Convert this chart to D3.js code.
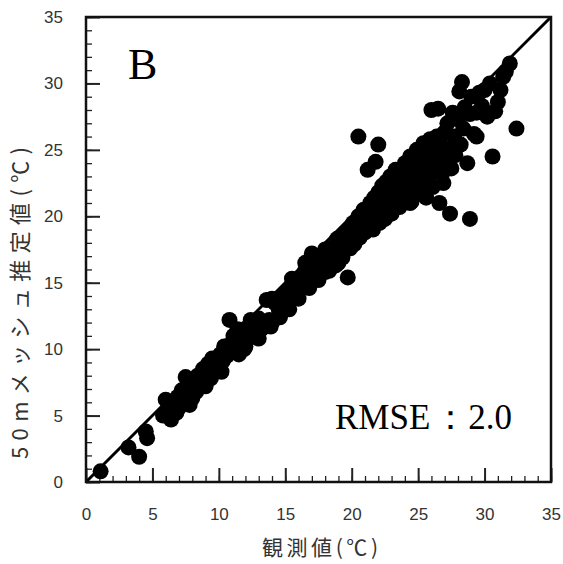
<!DOCTYPE html>
<html>
<head>
<meta charset="utf-8">
<script src="https://cdn.jsdelivr.net/npm/d3@7"></script>
<style>
  body { margin: 0; background: #fff; }
  svg { display: block; }
</style>
</head>
<body>
<div id="chart"></div>
<script>
const obsX = [
  1.1, 3.2, 4.0, 4.6, 4.5,
  5.8, 6.0, 6.2, 6.4, 6.5, 6.8, 6.9, 7.0, 7.2, 7.3, 7.5, 7.6, 7.8, 7.9, 8.0, 8.1, 8.3, 8.4, 8.6,
  8.8, 8.9, 9.1, 9.2, 9.4, 9.5, 9.6, 9.8, 10.0, 10.1, 10.3, 10.4, 10.6, 10.8, 10.9, 11.0, 11.1, 11.3,
  11.4, 11.6, 11.8, 11.9, 12.1, 12.2, 12.4, 12.5, 12.7, 12.9, 13.0, 13.2, 13.6, 13.8, 13.9,
  9.0, 10.2, 11.5, 12.0, 13.0, 14.0, 14.6, 15.3, 16.0, 16.8, 17.5, 18.0, 18.8, 19.3, 14.0, 15.5, 16.5,
  14.2, 14.5, 14.8, 15.0, 15.2, 15.5, 15.7, 15.9, 16.1, 16.3, 16.5, 16.7, 17.0, 17.1, 17.3, 17.5,
  17.6, 17.8, 18.0, 18.2, 18.3, 18.5, 18.7, 18.9, 19.0, 19.2, 19.4, 19.7, 19.6, 19.8, 19.9,
  20.0, 20.1, 20.2, 20.4, 20.5, 20.5, 20.6, 20.8, 20.9, 21.0, 21.2, 21.1, 21.3, 21.4, 21.5, 21.6,
  21.8, 21.7, 21.8, 22.0, 22.0, 22.1, 22.2, 22.3, 22.4, 22.5, 22.6, 22.7, 22.8, 22.9, 23.0, 23.1,
  23.2, 23.3, 23.5, 23.6,
  23.8, 23.9, 24.0, 24.1, 24.2, 24.4, 24.4, 24.5, 24.6, 24.7, 24.8, 24.9, 25.0, 25.1, 25.2, 25.3,
  25.4, 25.5, 25.6, 25.7, 25.8, 25.9, 26.0, 26.0, 26.1, 26.2, 26.3, 26.5, 26.4, 26.5,
  26.6, 26.7, 26.8, 26.9, 27.0, 27.1, 27.2, 27.4, 27.3, 27.5, 27.6, 27.7, 27.8, 28.0, 28.1, 28.2,
  28.3, 28.4, 28.5, 28.7, 28.9, 28.9, 29.0, 29.2, 29.4, 29.4, 29.6, 29.8, 30.0, 30.2, 30.4, 30.6,
  30.8, 31.0, 31.2, 31.4, 31.6, 31.9, 32.4
];
const estY = [
  0.8, 2.6, 1.9, 3.3, 3.8,
  5.0, 6.2, 5.4, 4.7, 5.8, 5.2, 6.4, 5.6, 6.9, 6.0, 7.9, 6.5, 5.8, 7.2, 6.3, 7.6, 6.8, 8.0, 7.3,
  8.5, 7.6, 8.1, 8.9, 7.8, 9.3, 8.4, 9.0, 8.6, 9.6, 9.1, 10.2, 9.5, 12.2, 10.4, 9.8, 11.0, 10.2,
  11.5, 10.6, 11.2, 10.0, 11.6, 10.8, 12.2, 11.2, 11.8, 10.9, 12.3, 11.5, 13.7, 12.2, 11.7,
  7.2, 8.3, 9.6, 10.2, 10.8, 12.0, 12.4, 13.0, 13.8, 14.6, 15.2, 15.8, 16.3, 16.9, 13.8, 15.3, 16.5,
  13.5, 13.0, 14.0, 13.6, 14.4, 14.0, 15.0, 14.5, 15.3, 14.8, 15.9, 15.5, 17.2, 16.0, 16.6, 15.8,
  17.0, 16.4, 17.5, 16.8, 15.9, 17.6, 17.1, 18.3, 16.5, 17.8, 18.6, 15.4, 18.1, 19.0, 17.6,
  18.5, 19.5, 17.9, 19.0, 20.0, 26.0, 18.4, 19.6, 20.5, 18.8, 23.5, 20.1, 19.3, 21.0, 20.4, 19.0,
  24.1, 21.4, 20.0, 25.4, 21.8, 19.5, 20.8, 22.3, 21.2, 19.8, 22.6, 20.5, 21.8, 23.0, 20.2, 22.4,
  21.1, 23.5, 21.9, 20.7,
  23.0, 22.2, 24.0, 21.5, 23.2, 21.0, 24.5, 21.1, 22.8, 24.0, 22.0, 25.0, 23.5, 21.8, 24.6, 22.6,
  25.5, 23.8, 21.4, 24.9, 23.0, 25.8, 28.0, 24.2, 22.2, 25.2, 23.6, 28.1, 26.0, 24.6,
  21.0, 25.4, 23.2, 22.5, 26.3, 24.2, 27.0, 20.2, 25.0, 23.6, 27.8, 26.0, 24.6, 27.3, 29.4, 25.4,
  30.1, 26.6, 28.2, 24.0, 19.8, 27.7, 29.0, 26.2, 27.8, 26.0, 29.3, 28.3, 29.5, 27.5, 30.0, 24.5,
  27.9, 28.6, 29.5, 30.5, 30.9, 31.5, 26.6
];
const tickValues = [0, 5, 10, 15, 20, 25, 30, 35];
const minorTicks = d3.range(0, 36, 1);
const xTitle = "観測値(℃)";
const yTitle = "50mメッシュ推定値(℃)";
const panelLabel = "B";
const rmseName = "RMSE", rmseSep = "：", rmseValue = "2.0";

const points = obsX.map((d, i) => ({x: d, y: estY[i]}));

const W = 563, H = 564;
const margin = {left: 86, top: 17, right: 12, bottom: 82};
const innerW = W - margin.left - margin.right,
      innerH = H - margin.top - margin.bottom;

const svg = d3.select("#chart")
  .append("svg")
    .attr("width", W)
    .attr("height", H);

const g = svg.append("g")
  .attr("transform", `translate(${margin.left},${margin.top})`);

const x = d3.scaleLinear().domain([0, 35]).range([0, innerW]);
const y = d3.scaleLinear().domain([0, 35]).range([innerH, 0]);

// minor ticks (inward)
g.append("g")
  .attr("transform", `translate(0,${innerH})`)
  .call(d3.axisTop(x).tickValues(minorTicks).tickSize(6).tickFormat(""))
  .call(a => a.select(".domain").remove())
  .selectAll("line").attr("stroke", "#222").attr("stroke-width", 1.3);
g.append("g")
  .call(d3.axisRight(y).tickValues(minorTicks).tickSize(6).tickFormat(""))
  .call(a => a.select(".domain").remove())
  .selectAll("line").attr("stroke", "#222").attr("stroke-width", 1.3);

// major ticks (inward)
g.append("g")
  .attr("transform", `translate(0,${innerH})`)
  .call(d3.axisTop(x).tickValues(tickValues).tickSize(14).tickFormat(""))
  .call(a => a.select(".domain").remove())
  .selectAll("line").attr("stroke", "#222").attr("stroke-width", 2);
g.append("g")
  .call(d3.axisRight(y).tickValues(tickValues).tickSize(14).tickFormat(""))
  .call(a => a.select(".domain").remove())
  .selectAll("line").attr("stroke", "#222").attr("stroke-width", 2);

// tick labels
const labelFont = "'Liberation Sans', Arial, sans-serif";
g.append("g")
  .attr("transform", `translate(0,${innerH})`)
  .call(d3.axisBottom(x).tickValues(tickValues).tickSize(0).tickPadding(26))
  .call(a => a.select(".domain").remove())
  .selectAll("text")
    .attr("font-family", labelFont)
    .attr("font-size", 17)
    .attr("fill", "#333");
g.append("g")
  .call(d3.axisLeft(y).tickValues(tickValues).tickSize(0).tickPadding(23))
  .call(a => a.select(".domain").remove())
  .selectAll("text")
    .attr("font-family", labelFont)
    .attr("font-size", 17)
    .attr("fill", "#333");

// 1:1 line
g.append("line")
  .attr("x1", x(0)).attr("y1", y(0))
  .attr("x2", x(35)).attr("y2", y(35))
  .attr("stroke", "#000")
  .attr("stroke-width", 3);

// points
g.append("g")
  .selectAll("circle")
  .data(points)
  .join("circle")
    .attr("cx", d => x(d.x))
    .attr("cy", d => y(d.y))
    .attr("r", 8)
    .attr("fill", "#000");

// frame
g.append("rect")
  .attr("width", innerW)
  .attr("height", innerH)
  .attr("fill", "none")
  .attr("stroke", "#111")
  .attr("stroke-width", 2.5);

// panel label and RMSE
const serif = "'Liberation Serif', 'Times New Roman', serif";
g.append("text")
  .attr("x", 42).attr("y", 62)
  .attr("font-family", serif)
  .attr("font-size", 44)
  .text(panelLabel);
const rmse = g.append("text")
  .attr("x", 249).attr("y", 412)
  .attr("font-family", serif)
  .attr("font-size", 35);
rmse.append("tspan").text(rmseName);
rmse.append("tspan").attr("dx", 3).text(rmseSep);
rmse.append("tspan").attr("dx", 0).text(rmseValue);

// axis titles
const cjkFont = "'Noto Sans CJK JP', 'Noto Sans', sans-serif";
svg.append("text")
  .attr("x", 320).attr("y", 555)
  .attr("text-anchor", "middle")
  .attr("font-family", cjkFont)
  .attr("font-size", 21)
  .attr("fill", "#333")
  .attr("textLength", 116)
  .attr("lengthAdjust", "spacing")
  .text(xTitle);
svg.append("text")
  .attr("transform", "translate(28,303) rotate(-90)")
  .attr("text-anchor", "middle")
  .attr("font-family", cjkFont)
  .attr("font-size", 22)
  .attr("fill", "#333")
  .attr("textLength", 312)
  .attr("lengthAdjust", "spacing")
  .text(yTitle);
</script>
</body>
</html>
